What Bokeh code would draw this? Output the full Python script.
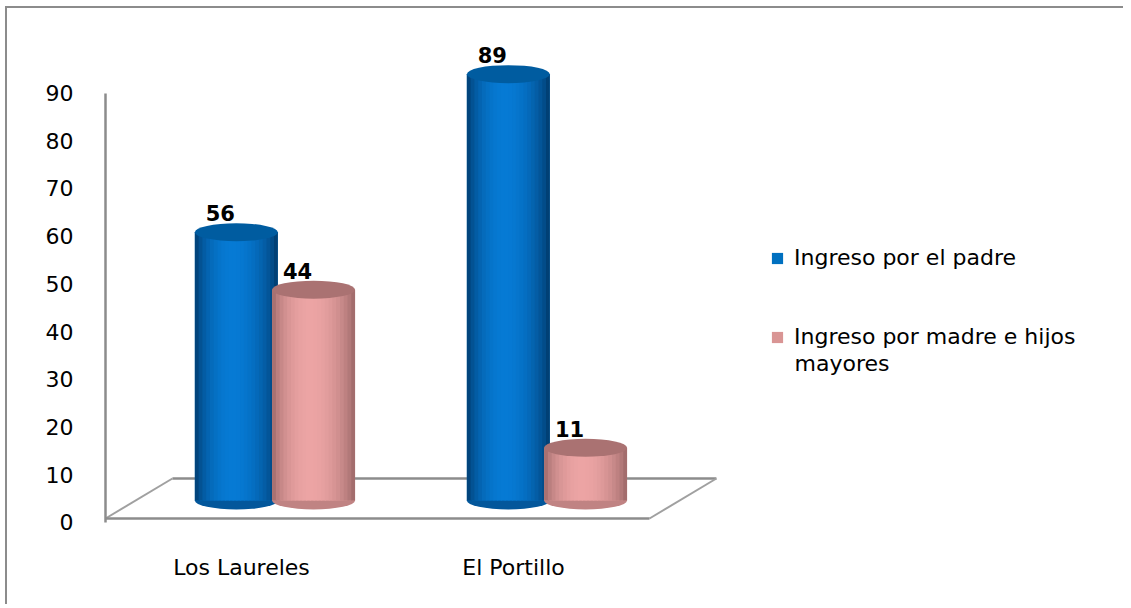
import math
from bokeh.plotting import figure
from bokeh.models import (Range1d, LinearAxis, FixedTicker, ColumnDataSource,
                          Legend, LegendItem, Label)
from bokeh.embed import file_html
from bokeh.resources import INLINE
from bokeh.core.properties import value

# ---------------- data ----------------
categories = ["Los Laureles", "El Portillo"]
series_names = ["Ingreso por el padre", "Ingreso por madre e hijos", "mayores"]
padre = [56, 89]
madre_hijos = [44, 11]
y_ticks = [0, 10, 20, 30, 40, 50, 60, 70, 80, 90]

# ---------------- styling ----------------
FONT = "DejaVu Sans"
GRAY = "#8c8c8c"
W, H = 1118, 598

legend_colors = ["#0070c0", "#d99594"]
edge_rgb = [(0, 52, 98), (148, 98, 98)]
peak_rgb = [(6, 122, 212), (236, 164, 164)]
top_rgb = [(0, 92, 160), (170, 114, 114)]

BAR_W = 0.305       # in category units
DODGE = 0.142
DEPTH_X = 0.246     # floor depth in x units
DEPTH_SHIFT = DEPTH_X / 2
FLOOR_FRONT = -3.76
FLOOR_BACK = 4.59
N_STRIPS = 22

p = figure(width=W, height=H, output_backend="svg", toolbar_location=None,
           x_range=Range1d(0, (W - 98) / 272), y_range=Range1d(-5.22, 102.71),
           x_axis_location=None, y_axis_location=None,
           min_border_left=98, min_border_right=0, min_border_top=0,
           min_border_bottom=81)
p.outline_line_color = None
p.xgrid.visible = False
p.ygrid.visible = False
p.background_fill_color = "white"
p.border_fill_color = "white"
p.styles = {"margin-left": "5px", "margin-top": "6px",
            "border-left": f"2px solid {GRAY}", "border-top": f"2px solid {GRAY}"}

# value axis (front plane)
p.extra_y_ranges = {"ax": Range1d(-0.629, 107.71)}
yax = LinearAxis(y_range_name="ax", ticker=FixedTicker(ticks=y_ticks), bounds=(0, 90))
yax.axis_line_color = GRAY
yax.axis_line_width = 2.5
yax.major_tick_line_color = None
yax.minor_tick_line_color = None
yax.major_label_standoff = 26
yax.major_label_text_font = FONT
yax.major_label_text_font_size = "22px"
yax.major_label_text_color = "black"
p.add_layout(yax, "left")

# category axis
cat_pos = [i + 0.5 for i in range(len(categories))]
xax = LinearAxis(ticker=FixedTicker(ticks=cat_pos))
xax.major_label_overrides = {pos: c for pos, c in zip(cat_pos, categories)}
xax.axis_line_color = None
xax.major_tick_line_color = None
xax.minor_tick_line_color = None
xax.major_label_standoff = 23
xax.major_label_text_font = FONT
xax.major_label_text_font_size = "22px"
xax.major_label_text_color = "black"
p.add_layout(xax, "below")

# floor
n = len(categories)
p.line([DEPTH_X, n + DEPTH_X], [FLOOR_BACK, FLOOR_BACK], line_color=GRAY, line_width=2.5)
p.line([0, DEPTH_X], [FLOOR_FRONT, FLOOR_BACK], line_color="#a0a0a0", line_width=2)
p.line([n, n + DEPTH_X], [FLOOR_FRONT, FLOOR_BACK], line_color="#a0a0a0", line_width=2)
p.line([0, n], [FLOOR_FRONT, FLOOR_FRONT], line_color=GRAY, line_width=2.5)


def rgb_hex(c):
    return "#%02x%02x%02x" % tuple(int(round(v)) for v in c)


legend_renderers = []
for s, vals in enumerate([padre, madre_hijos]):
    off = -DODGE if s == 0 else DODGE
    xs = [i + 0.5 + DEPTH_SHIFT + off for i in range(n)]
    mid = rgb_hex([(e + pk) / 2 for e, pk in zip(edge_rgb[s], peak_rgb[s])])
    # bottom cap
    p.ellipse(x=xs, y=[0] * n, width=BAR_W, height=18, height_units="screen",
              fill_color=mid, line_color=None)
    # body base
    base = p.vbar(x=xs, top=vals, bottom=0, width=BAR_W,
                  fill_color=legend_colors[s], line_color=None)
    legend_renderers.append(base)
    # shading strips
    L, R, T, B, C = [], [], [], [], []
    for x0, v in zip(xs, vals):
        for k in range(N_STRIPS):
            t = (k + 0.5) / N_STRIPS
            sh = math.sin(math.pi * t ** 0.9) ** 0.65
            col = [e + (pk - e) * sh for e, pk in zip(edge_rgb[s], peak_rgb[s])]
            l = x0 - BAR_W / 2 + k * BAR_W / N_STRIPS
            L.append(l)
            R.append(l + BAR_W / N_STRIPS * (1.0 if k == N_STRIPS - 1 else 1.3))
            T.append(v)
            B.append(0)
            C.append(rgb_hex(col))
    p.quad(left="l", right="r", top="t", bottom="b", fill_color="c", line_color=None,
           source=ColumnDataSource(dict(l=L, r=R, t=T, b=B, c=C)))
    # top cap
    p.ellipse(x=xs, y=vals, width=BAR_W, height=18, height_units="screen",
              fill_color=rgb_hex(top_rgb[s]), line_color=None)
    # data labels
    p.text(x=xs, y=vals, text=[str(v) for v in vals], x_offset=-16, y_offset=-19,
           text_align="center", text_baseline="middle", text_font=value(FONT),
           text_font_style="bold", text_font_size="21px", text_color="black")

legend = Legend(items=[LegendItem(label=series_names[i], renderers=[legend_renderers[i]])
                       for i in range(2)],
                location=(665, 176))
legend.border_line_color = None
legend.background_fill_alpha = 0
legend.padding = 0
legend.margin = 0
legend.spacing = 54
legend.glyph_width = 14
legend.glyph_height = 14
legend.label_standoff = 10
legend.label_text_font = FONT
legend.label_text_font_size = "22px"
legend.label_text_color = "black"
p.add_layout(legend)

# continuation line of the second legend entry
p.add_layout(Label(x=689, y=162, x_units="screen", y_units="screen", text=series_names[2],
                   text_font=FONT, text_font_size="22px", text_color="black",
                   text_baseline="middle", text_align="left"))

open("out.html", "w").write(file_html(p, INLINE))
